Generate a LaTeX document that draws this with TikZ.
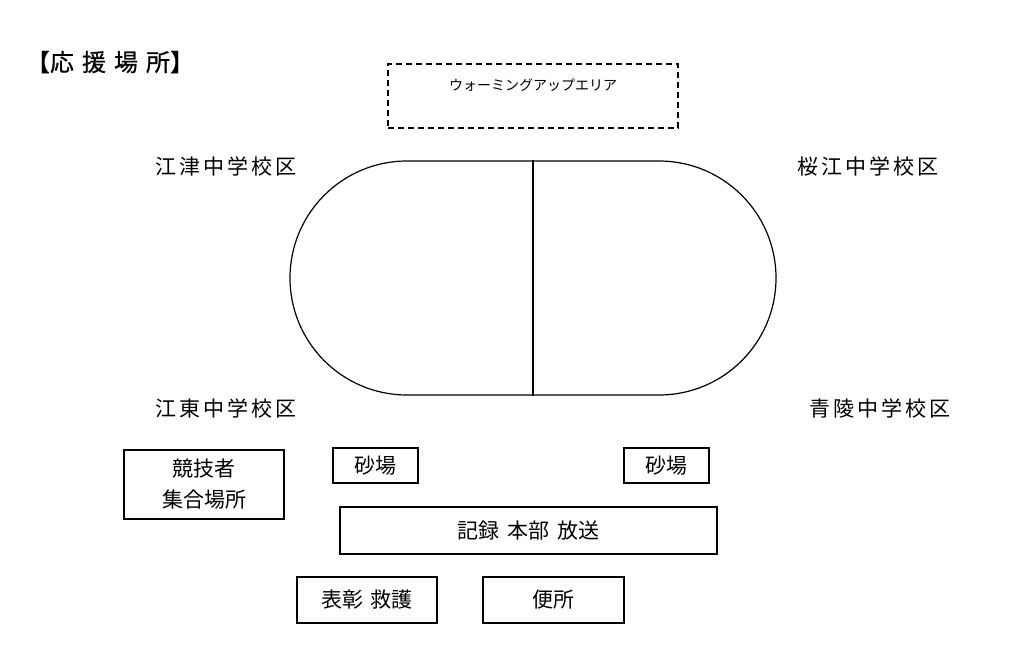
\documentclass[tikz,border=0pt]{standalone}
\usepackage{fontspec}
\setmainfont{Noto Sans CJK JP}
\usetikzlibrary{positioning}

\begin{document}
\begin{tikzpicture}[x=1pt, y=-1pt, line width=1.2pt,
    place/.style={draw, inner sep=0pt, align=center, font=\fontsize{21}{31}\selectfont},
    district/.style={font=\fontsize{21}{24}\selectfont\addfontfeature{LetterSpace=14}}]
    \useasboundingbox (0,0) rectangle (1024,664);
    \node (title) at (110,62) {\fontsize{24}{28}\selectfont\addfontfeature{FakeBold=0.6}【応\hspace{8pt}援\hspace{8pt}場\hspace{8pt}所】};

    % warming up area
    \node[draw, dash pattern=on 6pt off 4pt, minimum width=290pt, minimum height=64pt] (warm) at (533,96) {};
    \node[below=11pt of warm.north] (warmtxt) {\fontsize{14}{16}\selectfont ウォーミングアップエリア};

    % track
    \node[draw, rounded corners=117pt, minimum width=486pt, minimum height=234pt] (track) at (533,278) {};
    \draw (track.north) -- (track.south);

    \node[district] (gotsu) at (226,166) {江津中学校区};
    \node[district] (sakurae) at (868,166) {桜江中学校区};
    \node[district] (koto) at (226,408) {江東中学校区};
    \node[district] (seiryo) at (880,408) {青陵中学校区};

    \node[place, minimum width=160pt, minimum height=69pt] (gather) at (204,484.5) {競技者\\集合場所};
    \node[place, minimum width=85pt, minimum height=35pt] (sandL) at (375.5,465.5) {砂場};
    \node[place, minimum width=85pt, minimum height=35pt] (sandR) at (666.5,465.5) {砂場};
    \node[place, minimum width=377pt, minimum height=47pt] (hq) at (528.5,530.5) {記録\hspace{8pt}本部\hspace{8pt}放送};
    \node[place, minimum width=140pt, minimum height=46pt] (award) at (367,600) {表彰\hspace{8pt}救護};
    \node[place, minimum width=141pt, minimum height=46pt] (toilet) at (553.5,600) {便所};
\end{tikzpicture}
\end{document}
